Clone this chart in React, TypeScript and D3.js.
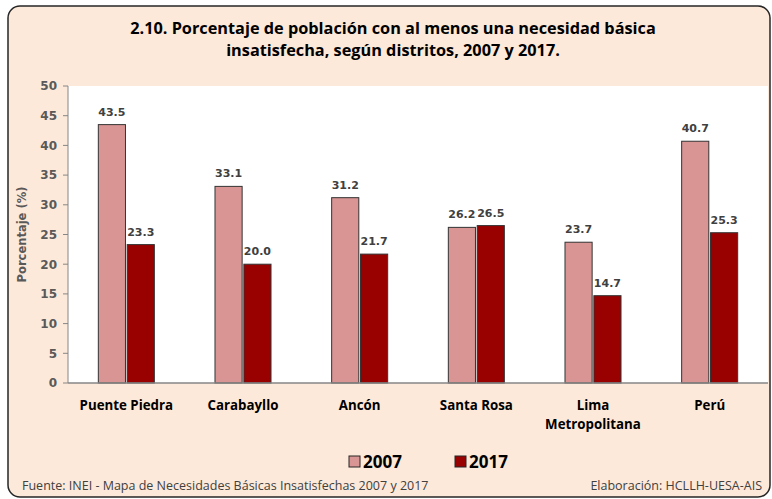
import React from "react";
import * as d3 from "d3";

const categories: string[][] = [["Puente Piedra"], ["Carabayllo"], ["Ancón"], ["Santa Rosa"], ["Lima", "Metropolitana"], ["Perú"]];
const series = ["2007", "2017"];
const values2007 = [43.5, 33.1, 31.2, 26.2, 23.7, 40.7];
const values2017 = [23.3, 20.0, 21.7, 26.5, 14.7, 25.3];
const yTicks = [0, 5, 10, 15, 20, 25, 30, 35, 40, 45, 50];
const titleLines = ["2.10. Porcentaje de población con al menos una necesidad básica", "insatisfecha, según distritos, 2007 y 2017."];
const yTitle = "Porcentaje (%)";
const source = "Fuente: INEI - Mapa de Necesidades Básicas Insatisfechas 2007 y 2017";
const credit = "Elaboración: HCLLH-UESA-AIS";

const colors = ["#D99594", "#990000"];
const calibri = "'Open Sans', sans-serif";
const tahoma = "'DejaVu Sans', Verdana, sans-serif";

export default function App() {
  const W = 772, H = 499;
  const left = 68, right = 768, top = 86, bottom = 383;
  const x0 = d3.scaleBand<number>().domain(d3.range(categories.length)).range([left, right]).paddingInner(0).paddingOuter(0);
  const x1 = d3.scaleBand<number>().domain([0, 1]).range([0, x0.bandwidth()]).paddingOuter(1.05).paddingInner(0.06);
  const y = d3.scaleLinear().domain([0, 50]).range([bottom, top]);
  const data = [values2007, values2017];

  return (
    <svg width={W} height={H} style={{ position: "absolute", left: 0, top: 0 }}>
      <rect x={0} y={0} width={W} height={H} fill="#ffffff" />
      <rect x={8} y={6} width={762} height={491} rx={12} ry={12} fill="#FDE9D9" stroke="#262626" strokeWidth={1.5} />
      {titleLines.map((t, i) => (
        <text key={i} x={393} y={34 + i * 22} textAnchor="middle" fontFamily={calibri} fontWeight="bold" fontSize={16.3} fill="#000">{t}</text>
      ))}
      <rect x={left} y={top} width={right - left} height={bottom - top} fill="#ffffff" />
      {data.map((vals, s) =>
        vals.map((v, i) => {
          const bx = (x0(i) as number) + (x1(s) as number);
          return (
            <g key={`${s}-${i}`}>
              <rect x={bx} y={y(v)} width={x1.bandwidth()} height={bottom - y(v)} fill={colors[s]} stroke="#333333" strokeWidth={1} />
              <text x={bx + x1.bandwidth() / 2} y={y(v) - 9} textAnchor="middle" fontFamily={tahoma} fontWeight="bold" fontSize={11} fill="#404040">{v.toFixed(1)}</text>
            </g>
          );
        })
      )}
      <line x1={left} x2={left} y1={top} y2={bottom} stroke="#868686" strokeWidth={1} />
      <line x1={left} x2={right} y1={bottom} y2={bottom} stroke="#868686" strokeWidth={1.5} />
      {yTicks.map((t) => (
        <g key={t}>
          <line x1={left - 5} x2={left} y1={y(t)} y2={y(t)} stroke="#868686" />
          <text x={left - 11} y={y(t)} dy="0.36em" textAnchor="end" fontFamily={tahoma} fontWeight="bold" fontSize={12} fill="#595959">{t}</text>
        </g>
      ))}
      <text transform={`translate(26,${(top + bottom) / 2}) rotate(-90)`} textAnchor="middle" fontFamily={tahoma} fontWeight="bold" fontSize={11.5} fill="#595959">{yTitle}</text>
      {categories.map((lines, i) => (
        <text key={i} x={(x0(i) as number) + x0.bandwidth() / 2} y={410} textAnchor="middle" fontFamily={calibri} fontWeight="bold" fontSize={13.3} fill="#000">
          {lines.map((l, j) => (
            <tspan key={j} x={(x0(i) as number) + x0.bandwidth() / 2} dy={j === 0 ? 0 : 19}>{l}</tspan>
          ))}
        </text>
      ))}
      {series.map((s, i) => {
        const lx = 349 + i * 106;
        return (
          <g key={s}>
            <rect x={lx} y={456} width={11} height={11} fill={colors[i]} stroke="#262626" strokeWidth={1} />
            <text x={lx + 14} y={468} fontFamily={calibri} fontWeight="bold" fontSize={17} fill="#000">{s}</text>
          </g>
        );
      })}
      <text x={22} y={490} fontFamily={calibri} fontSize={12.5} fill="#404040">{source}</text>
      <text x={762} y={490} textAnchor="end" fontFamily={calibri} fontSize={12.5} fill="#404040">{credit}</text>
    </svg>
  );
}
